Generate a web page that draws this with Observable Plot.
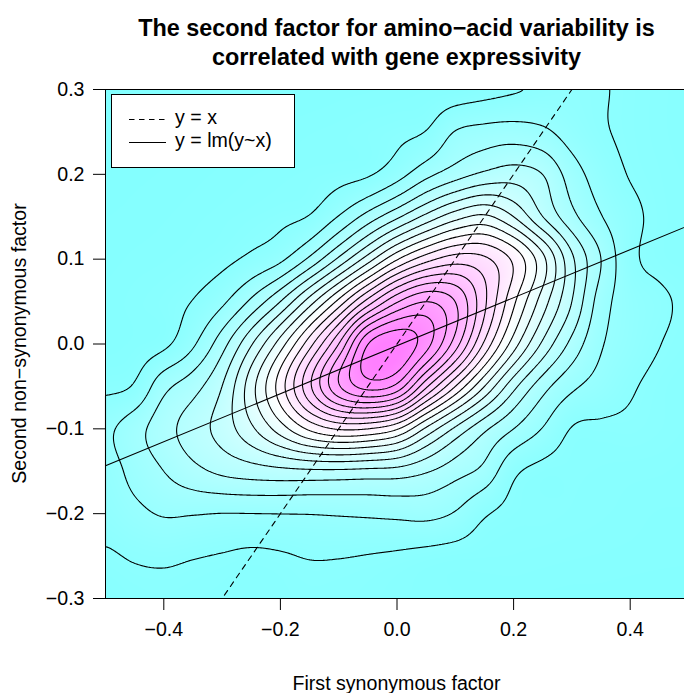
<!DOCTYPE html>
<html><head><meta charset="utf-8">
<script src="https://cdn.jsdelivr.net/npm/d3@7"></script>
<script src="https://cdn.jsdelivr.net/npm/@observablehq/plot@0.6"></script>
<style>
html,body{margin:0;padding:0;background:#fff;overflow:hidden;}
#wrap{position:relative;width:684px;height:693px;overflow:hidden;background:#fff;}
#chart{position:absolute;left:0;top:0;width:700px;height:693px;}
#chart svg{max-width:none !important;width:700px !important;height:693px !important;}
#overlay{position:absolute;left:0;top:0;pointer-events:none;}
</style></head><body>
<div id="wrap"><div id="chart"></div></div>
<script>
// ---- data ----
const xGrid = [-0.5,-0.45,-0.4,-0.35,-0.3,-0.25,-0.2,-0.15,-0.1,-0.05,0,0.05,0.1,0.15,0.2,0.25,0.3,0.35,0.4,0.45,0.5];
const yGrid = [0.3,0.25,0.2,0.15,0.1,0.05,0,-0.05,-0.1,-0.15,-0.2,-0.25,-0.3];
// estimated density (in units of contour-level spacing), one row per yGrid value
const density = [
 [0.20,0.22,0.24,0.26,0.28,0.30,0.33,0.36,0.40,0.42,0.45,0.50,0.52,0.70,0.90,1.10,1.20,1.06,0.85,0.70,0.60],
 [0.25,0.27,0.30,0.32,0.35,0.40,0.45,0.50,0.55,0.65,0.80,1.03,2.05,2.35,2.45,2.20,1.55,1.10,0.85,0.70,0.60],
 [0.30,0.33,0.36,0.40,0.45,0.50,0.55,0.62,0.72,0.90,1.60,2.70,3.55,4.20,4.50,4.00,2.50,1.50,0.95,0.75,0.65],
 [0.35,0.38,0.42,0.48,0.55,0.65,0.80,1.05,2.05,3.40,4.80,6.30,7.60,8.20,7.00,5.00,3.30,2.05,1.25,0.80,0.70],
 [0.40,0.45,0.50,0.60,0.78,1.20,1.80,3.20,5.20,7.50,9.90,11.60,12.50,12.20,10.80,8.30,5.20,3.00,1.25,0.80,0.70],
 [0.45,0.55,0.70,1.03,1.80,3.20,5.00,7.50,10.30,13.40,15.90,17.00,16.00,13.20,10.20,7.50,5.00,2.50,1.50,1.15,0.85],
 [0.45,0.55,0.80,1.85,3.60,5.90,8.50,11.60,15.00,19.00,19.78,18.40,15.50,11.80,8.50,5.80,3.70,2.10,1.45,1.02,0.80],
 [0.80,1.10,2.70,3.60,5.00,7.60,10.50,13.80,16.90,18.40,17.70,14.20,11.00,8.00,5.30,3.40,2.20,1.60,1.10,0.80,0.65],
 [1.80,2.60,3.60,4.50,5.40,6.80,8.50,10.20,11.10,11.00,10.10,7.80,5.80,4.20,3.00,1.95,0.95,0.85,0.85,0.75,0.65],
 [1.60,2.30,3.00,3.70,4.20,4.50,4.70,4.80,4.80,4.70,4.60,4.10,3.40,2.70,1.20,0.75,0.70,0.65,0.62,0.60,0.55],
 [1.35,1.75,2.08,2.05,1.98,1.99,2.01,2.03,2.10,2.17,2.25,2.30,1.92,1.10,0.75,0.70,0.65,0.60,0.55,0.50,0.50],
 [0.90,1.08,1.15,1.05,0.95,0.85,0.92,1.05,1.04,0.97,0.88,0.75,0.65,0.60,0.58,0.55,0.52,0.50,0.48,0.46,0.45],
 [0.60,0.75,0.80,0.75,0.70,0.65,0.70,0.78,0.75,0.70,0.60,0.55,0.50,0.45,0.45,0.42,0.40,0.40,0.38,0.36,0.35]
];
const contourLevels = [1,2,3,4,5,6,7,8,9,10,11,12,13,14,15,16,17,18,19];
const xTicks = [-0.4,-0.2,0,0.2,0.4];
const yTicks = [-0.3,-0.2,-0.1,0,0.1,0.2,0.3];
const xDomain = [-0.5, 0.5];
const yDomain = [-0.3, 0.3];
const refNames = ["y = x", "y = lm(y~x)"];
const refIntercepts = [0, -0.002];
const refSlopes = [1, 0.283];
const titleLines = ["The second factor for amino\u2212acid variability is", "correlated with gene expressivity"];
const xLabel = "First synonymous factor";
const yLabel = "Second non\u2212synonymous factor";

// ---- tables built from the arrays ----
const cells = [];
yGrid.forEach((y, r) => xGrid.forEach((x, c) => cells.push({x, y, v: density[r][c]})));
const refLines = refNames.map((name, i) =>
  xDomain.map(x => ({name, x, y: refIntercepts[i] + refSlopes[i] * x})));

// smooth (bicubic Catmull-Rom) resampling of the gridded estimates onto the raster
function bicubic(index, w, h, X, Y, V) {
  const nc = xGrid.length, nr = yGrid.length;
  const x0 = X[0], dxg = X[1] - X[0];
  const y0 = Y[0], dyg = Y[nc] - Y[0];
  const val = (r, c) => V[Math.max(0, Math.min(nr - 1, r)) * nc + Math.max(0, Math.min(nc - 1, c))];
  const cr = (p0, p1, p2, p3, t) =>
    0.5 * (2 * p1 + (-p0 + p2) * t + (2 * p0 - 5 * p1 + 4 * p2 - p3) * t * t + (-p0 + 3 * p1 - 3 * p2 + p3) * t * t * t);
  const out = new Float64Array(w * h);
  for (let j = 0; j < h; ++j) {
    const v = (j + 0.5 - y0) / dyg;
    const r = Math.floor(v), tv = v - r;
    for (let i = 0; i < w; ++i) {
      const u = (i + 0.5 - x0) / dxg;
      const c = Math.floor(u), tu = u - c;
      const q = [];
      for (let k = -1; k <= 2; ++k) q.push(cr(val(r + k, c - 1), val(r + k, c), val(r + k, c + 1), val(r + k, c + 2), tu));
      out[j * w + i] = Math.max(0, cr(q[0], q[1], q[2], q[3], tv));
    }
  }
  return out;
}

const vmax = d3.max(cells, d => d.v);
const baseFont = 19.6;

const plot = Plot.plot({
  width: 700,
  height: 693,
  marginLeft: 105,
  marginRight: 12,
  marginTop: 89,
  marginBottom: 95,
  style: {fontFamily: "'Liberation Sans', Arial, Helvetica, sans-serif", fontSize: baseFont + "px", color: "black", background: "white", maxWidth: "none"},
  x: {domain: xDomain, label: null},
  y: {domain: yDomain, label: null},
  color: {type: "linear", domain: [0, vmax / 2, vmax], range: ["#80ffff", "#ffffff", "#ff80ff"], interpolate: "rgb", clamp: true},
  marks: [
    Plot.raster(cells, {x: "x", y: "y", fill: "v", interpolate: bicubic, pixelSize: 1}),
    Plot.contour(cells, {x: "x", y: "y", value: "v", thresholds: contourLevels, interpolate: bicubic, pixelSize: 1, blur: 2, fill: "none", stroke: "black", strokeWidth: 1.1}),
    Plot.line(refLines[0], {x: "x", y: "y", stroke: "black", strokeWidth: 1.1, strokeDasharray: "5.5,5", clip: true}),
    Plot.line(refLines[1], {x: "x", y: "y", stroke: "black", strokeWidth: 1.1, clip: true}),
    Plot.frame({stroke: "black", strokeWidth: 1}),
    Plot.axisX(xTicks, {tickSize: 12, tickPadding: 12, tickFormat: d3.format(".1f"), label: null, stroke: "black"}),
    Plot.axisY(yTicks, {tickSize: 12, tickPadding: 9, tickFormat: d3.format(".1f"), label: null, stroke: "black"})
  ]
});
document.getElementById("chart").appendChild(plot);

// ---- overlay with titles and legend ----
const ns = "http://www.w3.org/2000/svg";
const ov = document.createElementNS(ns, "svg");
ov.setAttribute("id", "overlay");
ov.setAttribute("width", 684);
ov.setAttribute("height", 693);
ov.setAttribute("font-family", "'Liberation Sans', Arial, Helvetica, sans-serif");
function el(tag, attrs, text) {
  const e = document.createElementNS(ns, tag);
  for (const k in attrs) e.setAttribute(k, attrs[k]);
  if (text != null) e.textContent = text;
  ov.appendChild(e);
  return e;
}
const cx = 396.5;
el("text", {x: cx, y: 36, "text-anchor": "middle", "font-size": 23.4, "font-weight": "bold"}, titleLines[0]);
el("text", {x: cx, y: 64.5, "text-anchor": "middle", "font-size": 23.4, "font-weight": "bold"}, titleLines[1]);
el("text", {x: cx, y: 690, "text-anchor": "middle", "font-size": baseFont}, xLabel);
el("text", {x: 0, y: 0, "text-anchor": "middle", "font-size": baseFont, transform: "translate(26,343.5) rotate(-90)"}, yLabel);
// legend
el("rect", {x: 111.5, y: 94.5, width: 183, height: 73, fill: "white", stroke: "black", "stroke-width": 1});
el("line", {x1: 129, x2: 166, y1: 119.5, y2: 119.5, stroke: "black", "stroke-width": 1.1, "stroke-dasharray": "5.5,4.5"});
el("line", {x1: 129, x2: 166, y1: 142.5, y2: 142.5, stroke: "black", "stroke-width": 1.1});
el("text", {x: 175, y: 123.5, "font-size": baseFont}, refNames[0]);
el("text", {x: 175, y: 146.5, "font-size": baseFont}, refNames[1]);
document.getElementById("wrap").appendChild(ov);
</script>
</body></html>
